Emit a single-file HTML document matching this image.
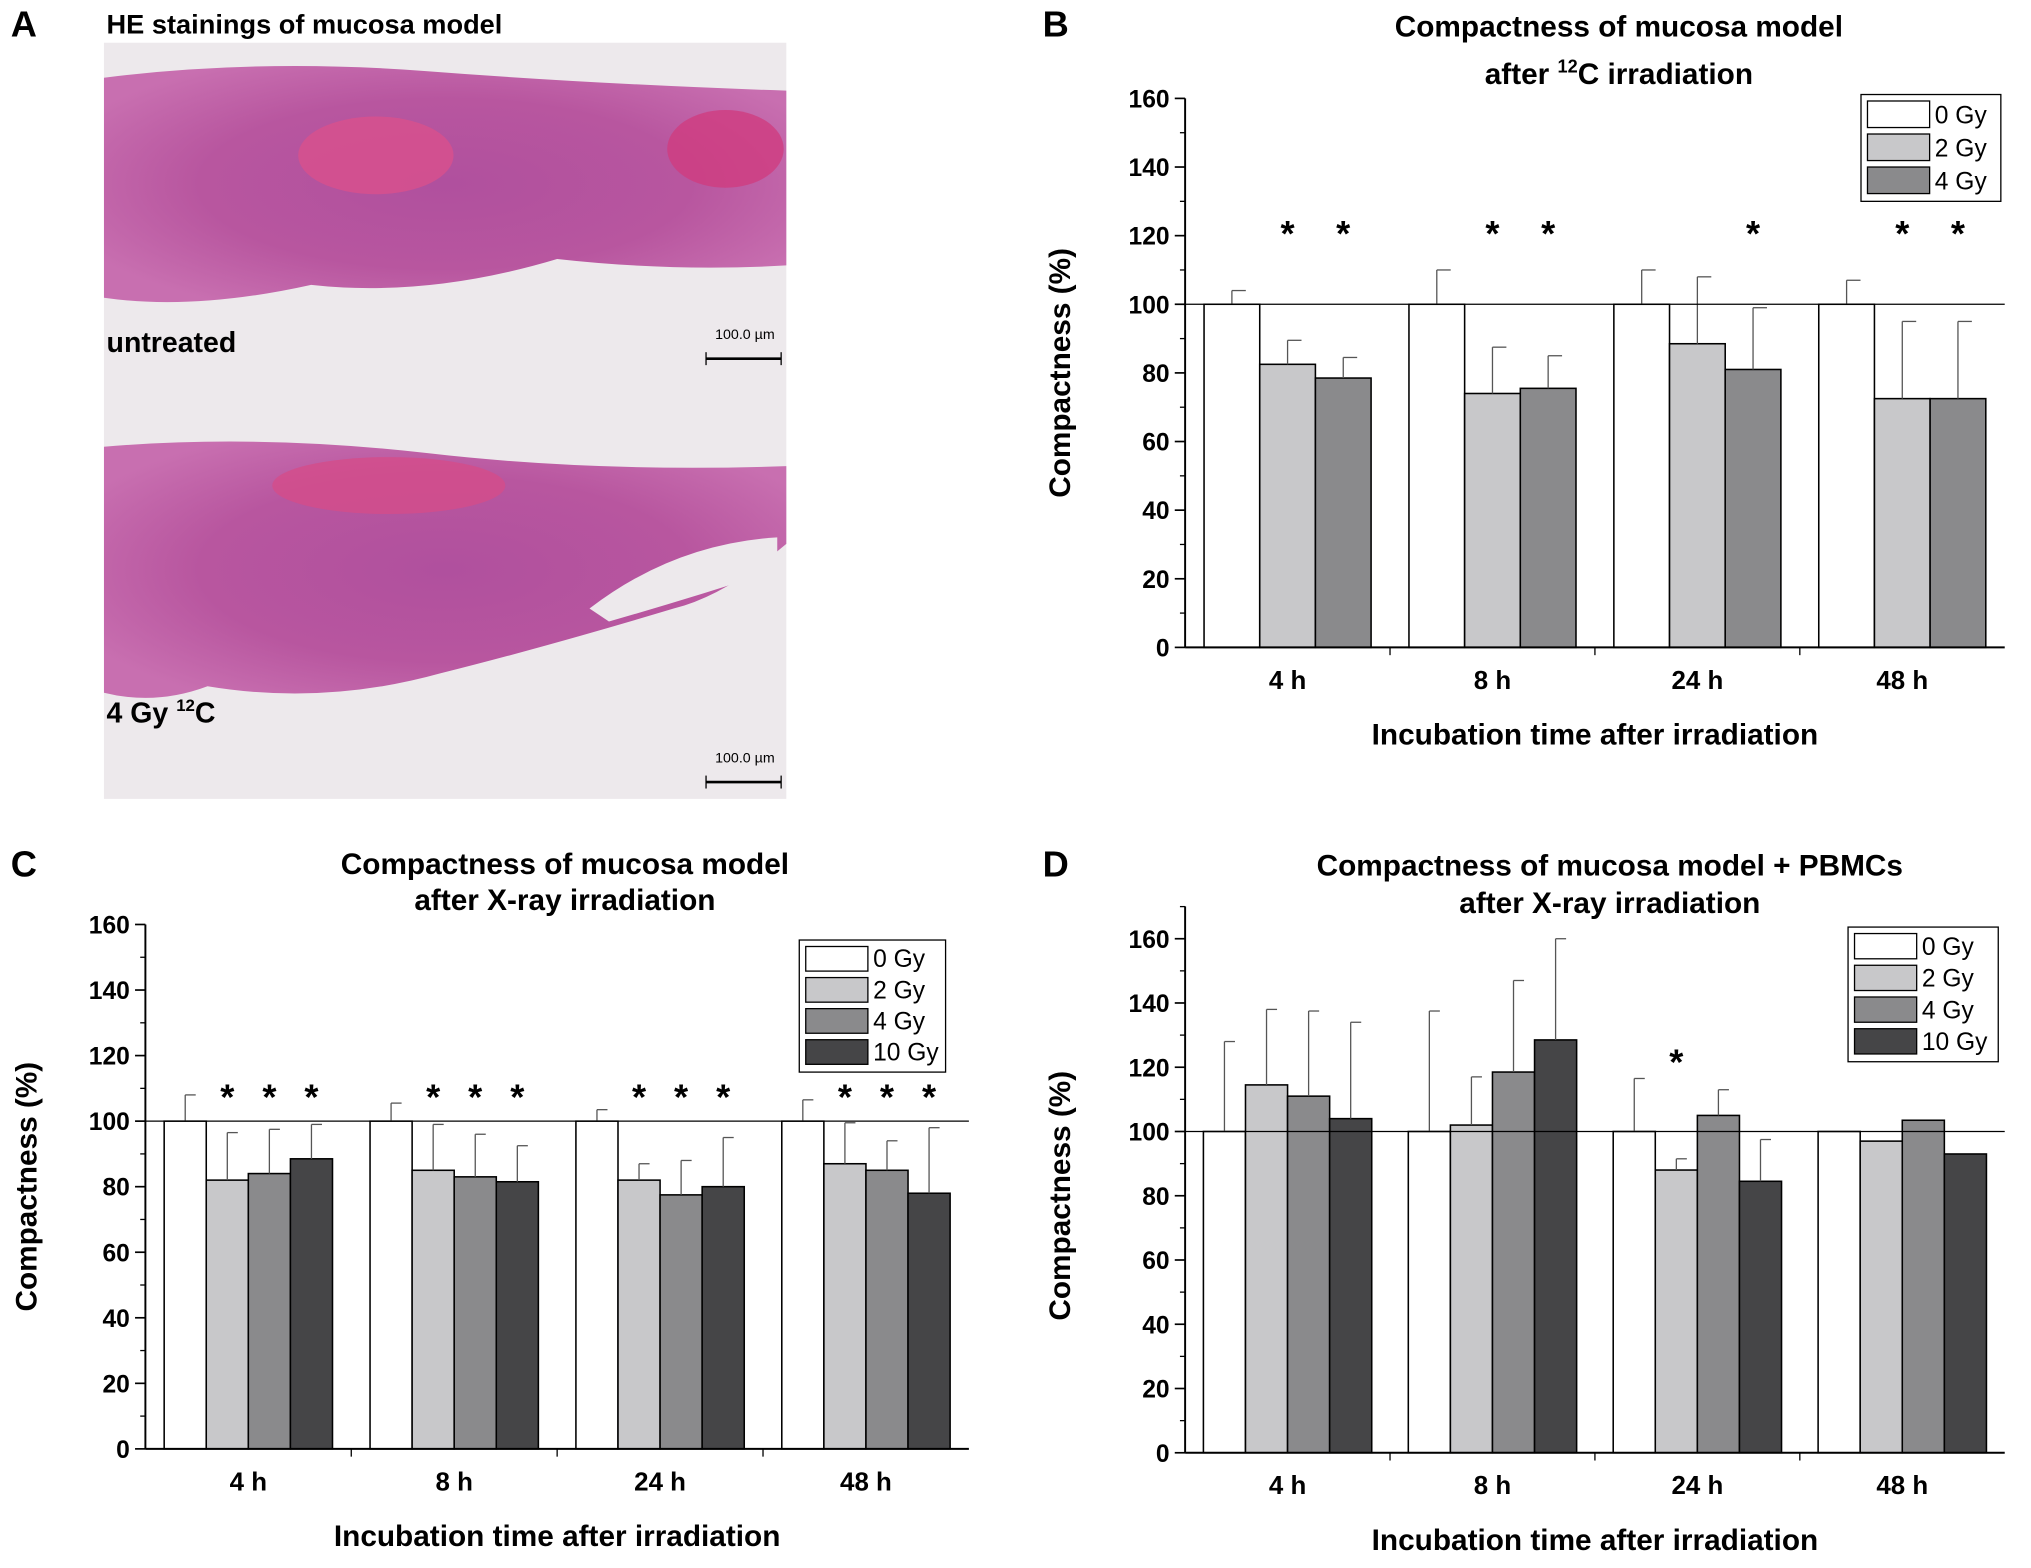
<!DOCTYPE html>
<html><head><meta charset="utf-8"><style>
html,body{margin:0;padding:0;background:#fff}
svg{display:block}
text{font-family:"Liberation Sans",Arial,sans-serif}
</style></head><body>
<svg id="fig" width="2031" height="1568" viewBox="0 0 1568 1211" xmlns="http://www.w3.org/2000/svg">
<defs>
<radialGradient id="tis" cx="50%" cy="50%" r="60%"><stop offset="0" stop-color="#b0509e"/><stop offset="0.6" stop-color="#b8569f"/><stop offset="1" stop-color="#c86fb0"/></radialGradient>
</defs>
<g>
<text x="8" y="28" font-size="28" font-weight="bold">A</text>
<text x="82" y="26" font-size="21" font-weight="bold">HE stainings of mucosa model</text>
<rect x="80" y="33" width="527" height="584" fill="#ede9ec"/>
<path d="M80,60 Q200,45 330,55 T607,70 L607,205 Q520,210 430,200 Q330,230 240,220 Q150,240 80,230 Z" fill="url(#tis)"/>
<ellipse cx="290" cy="120" rx="60" ry="30" fill="#d9508c" opacity="0.8"/>
<ellipse cx="560" cy="115" rx="45" ry="30" fill="#d03c80" opacity="0.8"/>
<path d="M80,345 Q200,335 330,350 T607,360 L607,420 Q560,460 520,470 Q420,500 340,520 Q250,545 160,530 Q120,545 80,535 Z" fill="url(#tis)"/>
<ellipse cx="300" cy="375" rx="90" ry="22" fill="#d44c8a" opacity="0.8"/>
<path d="M455,470 Q520,420 600,415 L600,440 Q540,460 470,480Z" fill="#ede9ec"/>
<text x="82" y="272" font-size="22" font-weight="bold">untreated</text>
<text x="82" y="558" font-size="22" font-weight="bold">4 Gy <tspan font-size="13" dy="-9">12</tspan><tspan dy="9">C</tspan></text>
<text x="575" y="262" font-size="11" text-anchor="middle">100.0 µm</text>
<line x1="545" y1="277" x2="603" y2="277" stroke="#000" stroke-width="2"/>
<line x1="545" y1="272" x2="545" y2="282" stroke="#000"/><line x1="603" y1="272" x2="603" y2="282" stroke="#000"/>
<text x="575" y="589" font-size="11" text-anchor="middle">100.0 µm</text>
<line x1="545" y1="604" x2="603" y2="604" stroke="#000" stroke-width="2"/>
<line x1="545" y1="599" x2="545" y2="609" stroke="#000"/><line x1="603" y1="599" x2="603" y2="609" stroke="#000"/>
</g>
<text x="805" y="28" font-size="28" font-weight="bold">B</text>
<text x="8" y="677" font-size="28" font-weight="bold">C</text>
<text x="805" y="677" font-size="28" font-weight="bold">D</text>
</svg>
<script>
const categories = ["4 h","8 h","24 h","48 h"];
const doses3 = ["0 Gy","2 Gy","4 Gy"];
const doses4 = ["0 Gy","2 Gy","4 Gy","10 Gy"];
const bMeans = [[100,82.5,78.5],[100,74,75.5],[100,88.5,81],[100,72.5,72.5]];
const bErr = [[4,7,6],[10,13.5,9.5],[10,19.5,18],[7,22.5,22.5]];
const bStars = [[0,1,1],[0,1,1],[0,0,1],[0,1,1]];
const cMeans = [[100,82,84,88.5],[100,85,83,81.5],[100,82,77.5,80],[100,87,85,78]];
const cErr = [[8,14.5,13.5,10.5],[5.5,14,13,11],[3.5,5,10.5,15],[6.5,12.5,9,20]];
const cStars = [[0,1,1,1],[0,1,1,1],[0,1,1,1],[0,1,1,1]];
const dMeans = [[100,114.5,111,104],[100,102,118.5,128.5],[100,88,105,84.5],[100,97,103.5,93]];
const dErr = [[28,23.5,26.5,30],[37.5,15,28.5,31.5],[16.5,3.5,8,13],[0,0,0,0]];
const dStars = [[0,0,0,0],[0,0,0,0],[0,1,0,0],[0,0,0,0]];
const yTicks = [0,20,40,60,80,100,120,140,160];
const fills = ["#ffffff","#c8c8ca","#8a8a8c","#454547"];
const NS="http://www.w3.org/2000/svg";
const fig=document.getElementById('fig');
function mk(tag,attrs,parent,txt){const e=document.createElementNS(NS,tag);for(const k in attrs)e.setAttribute(k,attrs[k]);if(txt!==undefined)e.textContent=txt;(parent||fig).appendChild(e);return e;}
function chart(cfg){
  const g=mk('g',{});
  
  
  const y=v=>cfg.y0-(v/160)*(cfg.y0-cfg.y160);
  const n=cfg.series.length;
  const gw=(cfg.right-cfg.left)/categories.length;
  const bw=cfg.bw;
  cfg.title.forEach((t,i)=>{const e=mk('text',{x:cfg.tx,y:cfg.ty+i*cfg.tl,'font-size':23,'font-weight':'bold','text-anchor':'middle'},g);e.innerHTML=t;});
  categories.forEach((c,ci)=>{
    const cx=cfg.left+gw*(ci+0.5);
    const x0=cx-n*bw/2;
    cfg.means[ci].forEach((m,si)=>{
      const x=x0+si*bw;
      const r=mk('rect',{x:x,y:y(m),width:bw,height:y(0)-y(m),fill:fills[si],stroke:'#000','stroke-width':1.2},g);
      
      
      const e=cfg.err[ci][si];
      if(e>0){
        const xm=x+bw/2;
        const l=mk('line',{x1:xm,x2:xm,y1:y(m),y2:y(m+e),stroke:'#555','stroke-width':1},g);
        
        
        mk('line',{x1:xm,x2:xm+bw/4,y1:y(m+e),y2:y(m+e),stroke:'#555','stroke-width':1},g);
      }
      if(cfg.stars[ci][si]){
        const s=mk('text',{x:x+bw/2,y:cfg.starY,'font-size':28,'font-weight':'bold','text-anchor':'middle'},g,'*');
        
        
      }
    });
    const lab=mk('text',{x:cx,y:cfg.y0+32,'font-size':20,'font-weight':'bold','text-anchor':'middle'},g,c);
    
    
    if(ci>0) mk('line',{x1:cfg.left+gw*ci,x2:cfg.left+gw*ci,y1:cfg.y0,y2:cfg.y0+6,stroke:'#000'},g);
  });
  const ref=mk('line',{x1:cfg.left,x2:cfg.right,y1:y(100),y2:y(100),stroke:'#000','stroke-width':1},g);
  
  
  const ax=mk('line',{x1:cfg.left,x2:cfg.left,y1:cfg.y0,y2:cfg.top,stroke:'#000','stroke-width':1.5},g);
  
  
  const xa=mk('line',{x1:cfg.left,x2:cfg.right,y1:cfg.y0,y2:cfg.y0,stroke:'#000','stroke-width':1.5},g);
  
  
  yTicks.forEach(t=>{
    mk('line',{x1:cfg.left-8,x2:cfg.left,y1:y(t),y2:y(t),stroke:'#000','stroke-width':1.3},g);
    if(y(t+10)>=cfg.top-1) mk('line',{x1:cfg.left-4,x2:cfg.left,y1:y(t+10),y2:y(t+10),stroke:'#000'},g);
    const tl=mk('text',{x:cfg.left-12,y:y(t)+7,'font-size':19,'font-weight':'bold','text-anchor':'end'},g,String(t));
    
    
  });
  const yl=mk('text',{x:0,y:0,'font-size':23,'font-weight':'bold','text-anchor':'middle',transform:`translate(${cfg.yLabX},${(cfg.y0+cfg.y160)/2}) rotate(-90)`},g,'Compactness (%)');
  
  
  const xl=mk('text',{x:(cfg.left+cfg.right)/2,y:cfg.y0+75,'font-size':23,'font-weight':'bold','text-anchor':'middle'},g,'Incubation time after irradiation');
  
  
  const lg=mk('g',{},g);
  
  
  mk('rect',{x:cfg.lx,y:cfg.ly,width:cfg.lw,height:cfg.series.length*cfg.lh+6,fill:'#fff',stroke:'#000'},lg);
  cfg.series.forEach((s,i)=>{
    const e=mk('rect',{x:cfg.lx+5,y:cfg.ly+5+i*cfg.lh,width:48,height:cfg.lh-5,fill:fills[i],stroke:'#000'},lg);
    
    
    mk('text',{x:cfg.lx+57,y:cfg.ly+cfg.lh-3+i*cfg.lh,'font-size':19},lg,s);
  });
}
chart({name:'chart-b',series:doses3,means:bMeans,err:bErr,stars:bStars,left:915,right:1548,top:76,y0:500,y160:76,bw:43,starY:190,
  title:['Compactness of mucosa model','after <tspan font-size="14" dy="-9">12</tspan><tspan dy="9">C irradiation</tspan>'],tx:1250,ty:28,tl:37,
  yLabX:826,lx:1437,ly:73,lw:108,lh:25.5});
chart({name:'chart-c',series:doses4,means:cMeans,err:cErr,stars:cStars,left:112,right:748,top:714,y0:1119,y160:714,bw:32.5,starY:857,
  title:['Compactness of mucosa model','after X-ray irradiation'],tx:436,ty:675,tl:28,
  yLabX:28,lx:617,ly:726,lw:113,lh:24});
chart({name:'chart-d',series:doses4,means:dMeans,err:dErr,stars:dStars,left:915,right:1548,top:700,y0:1122,y160:725,bw:32.5,starY:830,
  title:['Compactness of mucosa model + PBMCs','after X-ray irradiation'],tx:1243,ty:676,tl:29,
  yLabX:826,lx:1427,ly:716,lw:116,lh:24.5});
</script>
</body></html>
